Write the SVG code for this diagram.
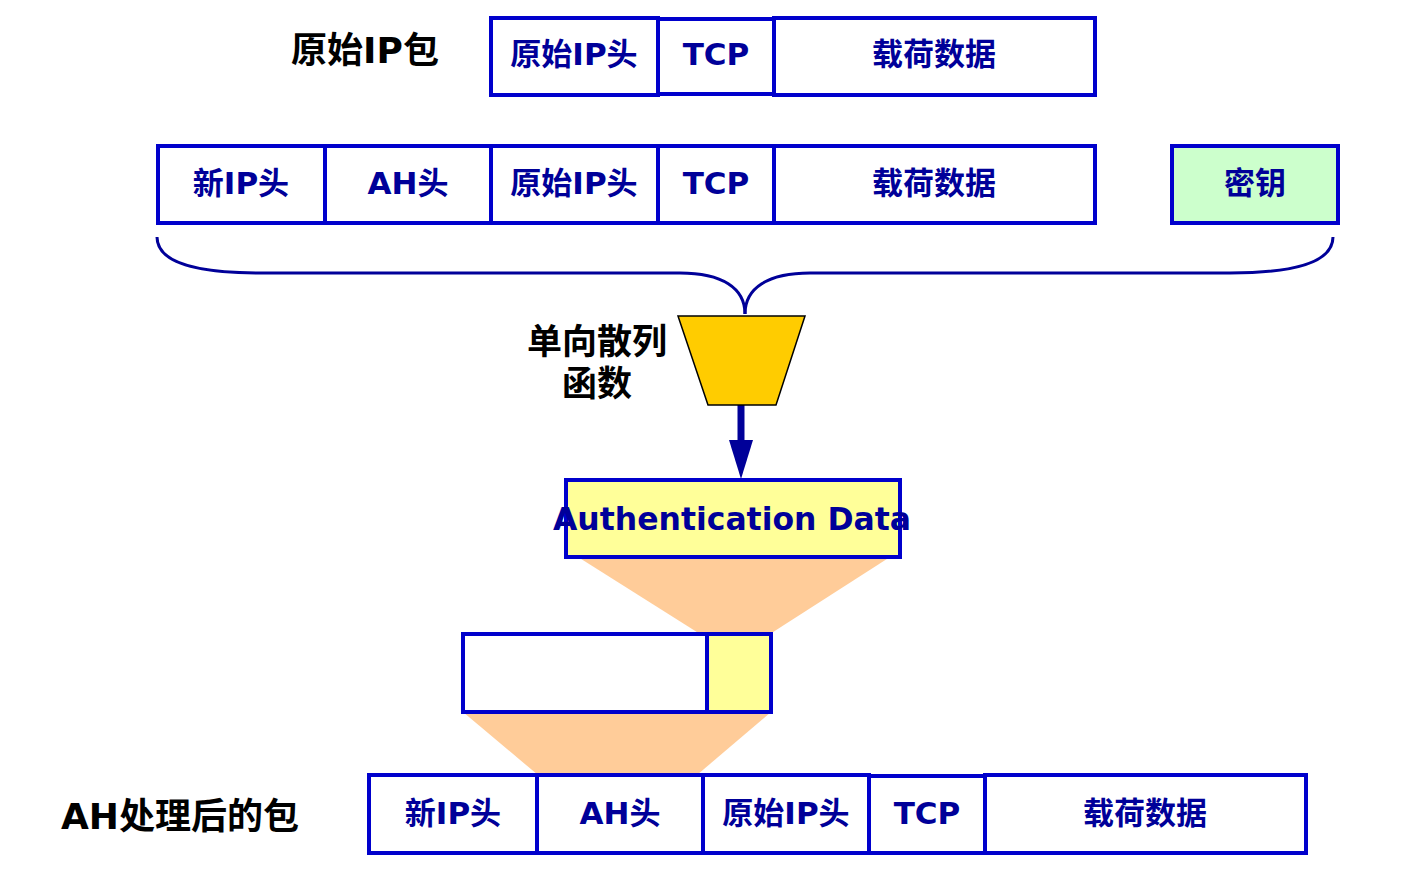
<svg xmlns="http://www.w3.org/2000/svg" width="1415" height="877" viewBox="0 0 1415 877">
<style>
.box{fill:#FFFFFF;stroke:#0000CC;stroke-width:4}
.lbl{font-family:"DejaVu Sans","Noto Sans CJK SC",sans-serif;font-weight:bold;font-size:31px;fill:#000099;text-anchor:middle}
.blk{font-family:"DejaVu Sans","Noto Sans CJK SC",sans-serif;font-weight:bold;font-size:36px;fill:#000000;text-anchor:middle}
.fan{fill:#FFCC99;stroke:none}
</style>
<rect width="1415" height="877" fill="#FFFFFF"/>

<g id="fans">
<polygon class="fan" points="578,557 890,557 770,634 700,634"/>
<polygon class="fan" points="463,712 771,712 697,775 538,775"/>
</g>

<g id="connectors">
<path d="M157,237 C157,262 195,273 260,273 L680,273 C722,273 745,288 745,314" fill="none" stroke="#000099" stroke-width="3"/>
<path d="M1333,237 C1333,262 1295,273 1230,273 L810,273 C768,273 745,288 745,314" fill="none" stroke="#000099" stroke-width="3"/>
<line x1="741" y1="405" x2="741" y2="444" stroke="#000099" stroke-width="7"/>
<polygon points="729,440 753,440 741,479" fill="#000099"/>
</g>

<g id="label-original">
<text class="blk" x="365" y="63">原始IP包</text>
</g>

<g id="row1">
<rect class="box" x="491" y="18" width="167" height="77"/>
<text class="lbl" x="574" y="65">原始IP头</text>
<rect class="box" x="658" y="19" width="116" height="75"/>
<text class="lbl" x="716" y="65">TCP</text>
<rect class="box" x="774" y="18" width="321" height="77"/>
<text class="lbl" x="934" y="65">载荷数据</text>
</g>

<g id="row2">
<rect class="box" x="158" y="146" width="167" height="77"/>
<text class="lbl" x="241" y="194">新IP头</text>
<rect class="box" x="325" y="146" width="166" height="77"/>
<text class="lbl" x="408" y="194">AH头</text>
<rect class="box" x="491" y="146" width="167" height="77"/>
<text class="lbl" x="574" y="194">原始IP头</text>
<rect class="box" x="658" y="146" width="116" height="77"/>
<text class="lbl" x="716" y="194">TCP</text>
<rect class="box" x="774" y="146" width="321" height="77"/>
<text class="lbl" x="934" y="194">载荷数据</text>
</g>

<g id="key">
<rect x="1172" y="146" width="166" height="77" fill="#CCFFCC" stroke="#0000CC" stroke-width="4"/>
<text class="lbl" x="1255" y="194">密钥</text>
</g>

<g id="hash">
<polygon points="678,316 805,316 776,405 708,405" fill="#FFCC00" stroke="#000000" stroke-width="1.5"/>
<text class="blk" style="font-size:35px" x="597" y="354">单向散列</text>
<text class="blk" style="font-size:35px" x="597" y="396">函数</text>
</g>

<g id="auth-data">
<rect x="566" y="480" width="334" height="77" fill="#FFFF99" stroke="#0000CC" stroke-width="4"/>
<text class="lbl" x="732" y="530" style="font-size:32px" textLength="358" lengthAdjust="spacingAndGlyphs">Authentication Data</text>
</g>

<g id="ah-header">
<rect class="box" x="463" y="634" width="244" height="78"/>
<rect x="707" y="634" width="64" height="78" fill="#FFFF99" stroke="#0000CC" stroke-width="4"/>
</g>

<g id="label-ah">
<text class="blk" x="180" y="829">AH处理后的包</text>
</g>

<g id="row3">
<rect class="box" x="369" y="775" width="168" height="78"/>
<text class="lbl" x="453" y="824">新IP头</text>
<rect class="box" x="537" y="775" width="166" height="78"/>
<text class="lbl" x="620" y="824">AH头</text>
<rect class="box" x="703" y="775" width="166" height="78"/>
<text class="lbl" x="786" y="824">原始IP头</text>
<rect class="box" x="869" y="776" width="116" height="77"/>
<text class="lbl" x="927" y="824">TCP</text>
<rect class="box" x="985" y="775" width="321" height="78"/>
<text class="lbl" x="1145" y="824">载荷数据</text>
</g>
</svg>
